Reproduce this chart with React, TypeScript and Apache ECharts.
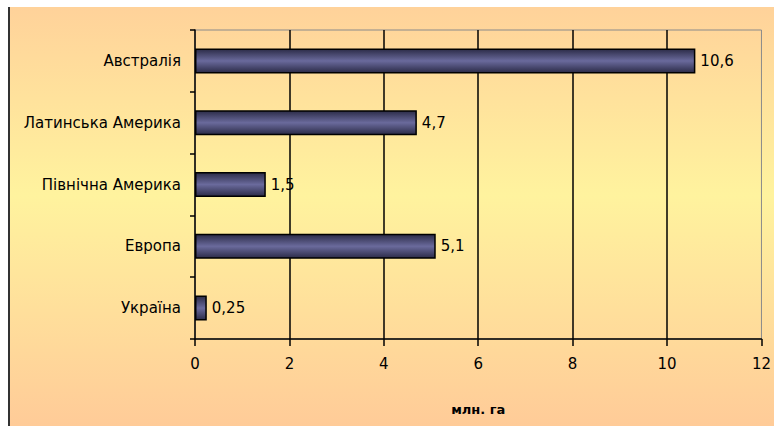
import React, { useEffect, useRef } from "react";
import * as echarts from "echarts";

const categories = ["Австралія", "Латинська Америка", "Північна Америка", "Европа", "Україна"];
const values = [10.6, 4.7, 1.5, 5.1, 0.25];
const xTicks = [0, 2, 4, 6, 8, 10, 12];
const axisName = "млн. га";

const FONT = "DejaVu Sans";

export default function App() {
  const ref = useRef<HTMLDivElement>(null);
  useEffect(() => {
    if (!ref.current) return;
    const chart = echarts.init(ref.current, null, { renderer: "svg" });
    chart.setOption({
      animation: false,
      textStyle: { fontFamily: FONT },
      graphic: [
        {
          type: "rect",
          z: -10,
          silent: true,
          shape: { x: 10, y: 7, width: 764, height: 419 },
          style: {
            fill: new echarts.graphic.LinearGradient(0, 0, 0, 1, [
              { offset: 0, color: "#FFD29A" },
              { offset: 0.45, color: "#FFF39E" },
              { offset: 1, color: "#FFCB98" },
            ]),
          },
        },
        {
          type: "rect",
          z: -9,
          silent: true,
          shape: { x: 8, y: 7, width: 2, height: 419 },
          style: { fill: "#333333" },
        },
      ],
      grid: {
        left: 195,
        right: 11,
        top: 30,
        bottom: 87,
        show: true,
        borderColor: "#8a8a8a",
        borderWidth: 1,
        backgroundColor: "transparent",
      },
      xAxis: {
        type: "value",
        min: xTicks[0],
        max: xTicks[xTicks.length - 1],
        interval: 2,
        name: axisName,
        nameLocation: "middle",
        nameGap: 64,
        nameTextStyle: { fontFamily: FONT, fontSize: 13, fontWeight: "bold", color: "#000" },
        axisLine: { show: true, lineStyle: { color: "#000", width: 1.5 } },
        axisTick: { show: true, length: 7, inside: false, lineStyle: { color: "#000", width: 1.5 } },
        axisLabel: { color: "#000", fontSize: 15, margin: 17, fontFamily: FONT },
        splitLine: { show: true, showMinLine: false, showMaxLine: false, lineStyle: { color: "#000", width: 1.5 } },
      },
      yAxis: {
        type: "category",
        inverse: true,
        data: categories,
        axisLine: { show: true, lineStyle: { color: "#000", width: 1.5 } },
        axisTick: { show: true, length: 5, alignWithLabel: false, lineStyle: { color: "#000", width: 1.5 } },
        axisLabel: { color: "#000", fontSize: 15, margin: 14, fontFamily: FONT },
        splitLine: { show: false },
      },
      series: [
        {
          type: "bar",
          data: values,
          barWidth: 25,
          itemStyle: {
            color: new echarts.graphic.LinearGradient(0, 0, 0, 1, [
              { offset: 0, color: "#2c2c48" },
              { offset: 0.5, color: "#6a6a9c" },
              { offset: 1, color: "#2c2c48" },
            ]),
            borderColor: "#000",
            borderWidth: 1.5,
          },
          label: {
            show: true,
            position: "right",
            distance: 5,
            color: "#000",
            fontSize: 15,
            fontFamily: FONT,
            formatter: (p: any) => String(p.value).replace(".", ","),
          },
        },
      ],
    });
    return () => chart.dispose();
  }, []);
  return <div ref={ref} style={{ width: 774, height: 426, position: "absolute", left: 0, top: 0 }} />;
}
